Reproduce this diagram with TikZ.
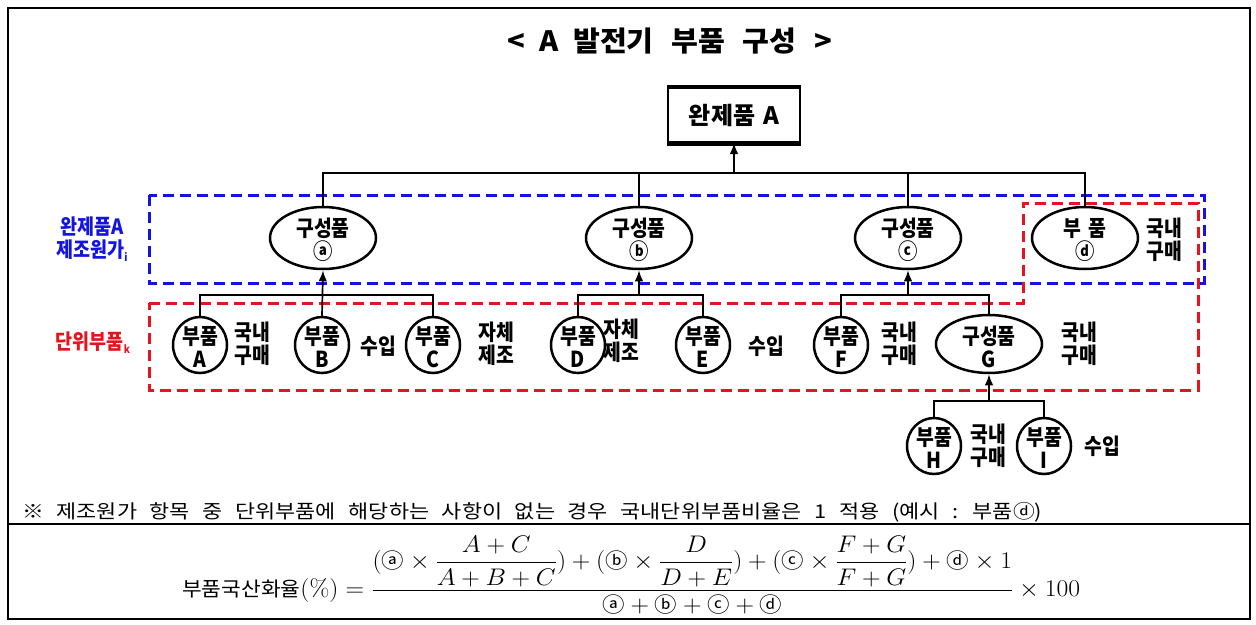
\RequirePackage{fix-cm}
\documentclass[tikz,border=0pt]{standalone}
\usepackage{fontspec}
\usepackage{amsmath}
\usepackage{graphicx}
\usetikzlibrary{arrows.meta,shapes.geometric}
\newfontfamily\kr{Noto Sans CJK KR}
\newfontfamily\krc{Noto Sans CJK KR}[FakeStretch=0.88]
\newfontfamily\krn{Noto Sans CJK KR}[WordSpace=2.6]
\newcommand{\cirx}[1]{\text{\kr\fontsize{21}{21}\selectfont #1}}
\definecolor{dblue}{RGB}{20,20,225}
\definecolor{dred}{RGB}{230,20,30}
\tikzset{
  ln/.style={line width=1.7pt},
  arr/.style={ln,-{Latex[length=11pt,width=8.5pt]}},
  bigell/.style={ellipse, draw, line width=2.5pt, minimum width=106pt, minimum height=62pt, inner sep=0pt},
  smallc/.style={ellipse, draw, line width=2.5pt, minimum width=54pt, minimum height=56pt, inner sep=0pt},
  txt/.style={font=\krc\bfseries\fontsize{22}{23}\selectfont, align=center, inner sep=0pt},
  side/.style={font=\krc\bfseries\fontsize{22}{23}\selectfont, align=center, inner sep=0pt},
  bdash/.style={draw=dblue, line width=3pt, dash pattern=on 11pt off 6pt},
  rdash/.style={draw=dred, line width=3pt, dash pattern=on 11pt off 6pt},
}
\begin{document}
\begin{tikzpicture}[x=1pt,y=-1pt]
\fill[white] (0,0) rectangle (1256,624);
\useasboundingbox (0,0) rectangle (1256,624);
% frame
\draw[line width=1.3pt] (8,8) rectangle (1250,619);
\draw[line width=1.3pt] (8,524) -- (1250,524);
% title
\node[inner sep=0pt] (title) at (670,41)
  {\resizebox{324pt}{\height}{\kr\bfseries\fontsize{28}{30}\selectfont <\hspace{13pt}A\hspace{14pt}발전기\hspace{17pt}부품\hspace{17pt}구성\hspace{17pt}>}};
% top box
\node[draw, line width=2pt, minimum width=132pt, minimum height=54pt, inner sep=0pt,
  font=\kr\bfseries\fontsize{24}{26}\selectfont] (top) at (734,115) {완제품\hspace{8pt}A};
\draw[line width=4pt] (top.north west) -- (top.north east);
\draw[line width=5pt] (top.south west) -- (top.south east);
% dashed regions
\draw[bdash] (149,195) rectangle (1204,283);
\draw[rdash] (149,303) -- (1023,303) -- (1023,203) -- (1198,203) -- (1198,390) -- (149,390) -- cycle;
% labels left
\node[font=\krc\bfseries\fontsize{21}{23}\selectfont, text=dblue, align=center, inner sep=0pt] (lab1) at (92,239)
  {완제품A\\제조원가\raisebox{-4pt}{\fontsize{11}{11}\selectfont i}};
\node[font=\krc\bfseries\fontsize{21}{23}\selectfont, text=dred, inner sep=0pt] (lab2) at (93,343)
  {단위부품\raisebox{-4pt}{\fontsize{11}{11}\selectfont k}};
% first level
\node[bigell] (ea) at (323,238) {};
\node[bigell] (eb) at (639,238) {};
\node[bigell] (ec) at (908,238) {};
\node[bigell] (ed) at (1085,238) {};
\node[txt] (ta) at (323,240) {구성품\\ⓐ};
\node[txt] (tb) at (639,240) {구성품\\ⓑ};
\node[txt] (tc) at (908,240) {구성품\\ⓒ};
\node[txt] (td) at (1085,240) {부\hspace{7pt}품\\ⓓ};
\node[side] (sd) at (1164,240) {국내\\구매};
% bus to top
\coordinate (bus) at (734,173);
\draw[ln] (ea.north) -- (ea.north |- bus) -- (ed.north |- bus) -- (ed.north);
\draw[ln] (eb.north) -- (eb.north |- bus);
\draw[ln] (ec.north) -- (ec.north |- bus);
\draw[arr] (bus) -- (top.south);
% second level
\node[smallc] (A) at (200,345) {};
\node[smallc] (B) at (322,345) {};
\node[smallc] (C) at (433,345) {};
\node[smallc] (D) at (578,345) {};
\node[smallc] (E) at (703,345) {};
\node[smallc] (F) at (841,345) {};
\node[bigell, minimum height=58pt] (G) at (989,344) {};
\node[txt] (tA) at (200,347) {부품\\A};
\node[txt] (tB) at (322,347) {부품\\B};
\node[txt] (tC) at (433,347) {부품\\C};
\node[txt] (tD) at (578,347) {부품\\D};
\node[txt] (tE) at (703,347) {부품\\E};
\node[txt] (tF) at (841,347) {부품\\F};
\node[txt] (tG) at (989,347) {구성품\\G};
\node[side] (sA) at (252,344) {국내\\구매};
\node[side] (sB) at (378,346) {수입};
\node[side] (sC) at (496,344) {자체\\제조};
\node[side] (sD) at (621,341) {자체\\제조};
\node[side] (sE) at (766,346) {수입};
\node[side] (sF) at (899,344) {국내\\구매};
\node[side] (sG) at (1079,344) {국내\\구매};
% third level
\node[smallc] (H) at (934,446) {};
\node[smallc] (I) at (1044,446) {};
\node[txt] (tH) at (934,448) {부품\\H};
\node[txt] (tI) at (1044,448) {부품\\I};
\node[side] (sH) at (988,446) {국내\\구매};
\node[side] (sI) at (1102,446) {수입};
% buses level 2
\coordinate (ba) at (322,295);
\coordinate (bb) at (639,295);
\coordinate (bc) at (908,295);
\coordinate (bg) at (989,401);
\draw[ln] (A.north) -- (A.north |- ba) -- (C.north |- ba) -- (C.north);
\draw[arr] (B.north) -- (ea.south);
\draw[ln] (D.north) -- (D.north |- bb) -- (E.north |- bb) -- (E.north);
\draw[arr] (bb) -- (eb.south);
\draw[ln] (F.north) -- (F.north |- bc) -- (G.north |- bc) -- (G.north);
\draw[arr] (bc) -- (ec.south);
\draw[ln] (H.north) -- (H.north |- bg) -- (I.north |- bg) -- (I.north);
\draw[arr] (bg) -- (G.south);
% note
\node[anchor=west, inner sep=0pt] (note) at (22,512)
  {\resizebox{1020pt}{\height}{\krn\fontsize{19}{21}\selectfont ※ 제조원가 항목 중 단위부품에 해당하는 사항이 없는 경우 국내단위부품비율은 1 적용 (예시 : 부품ⓓ)}};
% formula
\node[anchor=base west, inner sep=0pt] (formula) at (182,596) {\resizebox{898pt}{\height}{\fontsize{24}{28}\selectfont
 $\text{\kr\fontsize{20}{24}\selectfont 부품국산화율}(\%) = \dfrac{(\cirx{ⓐ}\times\dfrac{A+C}{A+B+C})+(\cirx{ⓑ}\times\dfrac{D}{D+E})+(\cirx{ⓒ}\times\dfrac{F+G}{F+G})+\cirx{ⓓ}\times 1}{\cirx{ⓐ}+\cirx{ⓑ}+\cirx{ⓒ}+\cirx{ⓓ}}\times 100$}};
\end{tikzpicture}
\end{document}
